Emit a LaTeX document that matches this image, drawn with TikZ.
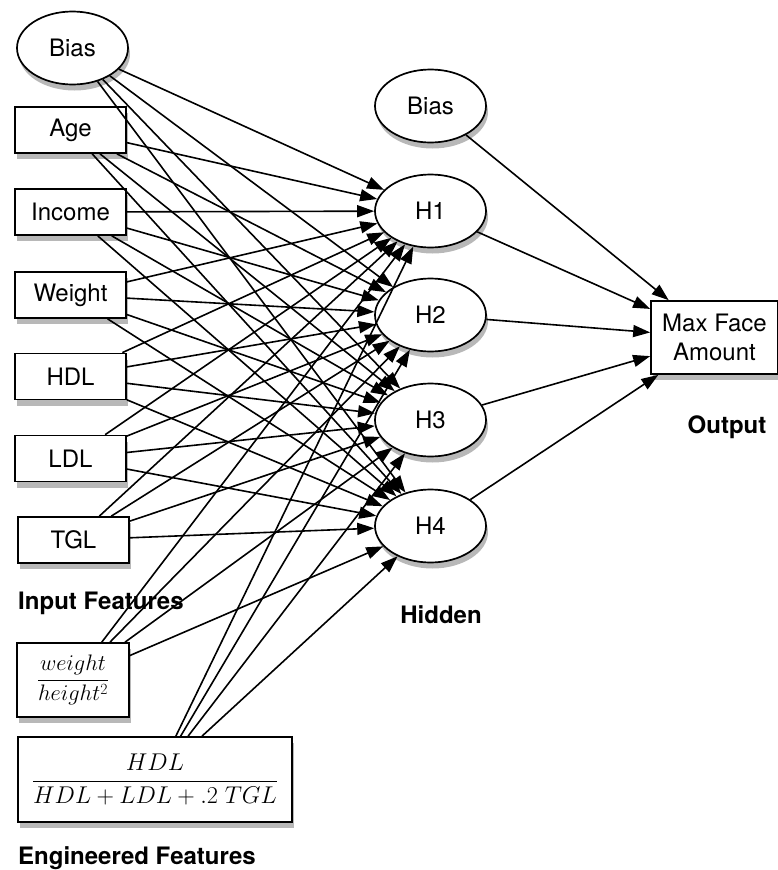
\documentclass[tikz,border=0pt]{standalone}
\usepackage{graphicx}
\usepackage[no-math]{fontspec}
\setmainfont{TeX Gyre Heros}
\usetikzlibrary{shapes.geometric,arrows.meta,shadows}
\tikzset{
  base/.style={draw=black, line width=1.7pt, fill=white,
    drop shadow={shadow xshift=2pt, shadow yshift=-6pt, opacity=0.28, fill=black}},
  ell/.style={base, ellipse, minimum width=111pt, minimum height=73pt, inner sep=0pt},
  inbox/.style={base, rectangle, minimum width=111pt, minimum height=46pt, inner sep=0pt},
  conn/.style={line width=1.6pt, -{Triangle[length=17pt,width=12pt]}},
  lab/.style={font=\fontsize{24}{28}\bfseries\selectfont, inner sep=0pt}
}
\begin{document}
\begin{tikzpicture}[x=1pt,y=-1pt,font=\fontsize{24}{28}\selectfont]
\useasboundingbox (0,0) rectangle (778,870);
% input layer
\node[ell]   (inB) at (72.5,48)  {Bias};
\node[inbox] (age) at (70.5,130) {Age};
\node[inbox] (inc) at (70.5,212) {Income};
\node[inbox] (wgt) at (70.5,295) {Weight};
\node[inbox] (hdl) at (70.5,376.5) {HDL};
\node[inbox] (ldl) at (70.5,458.5) {LDL};
\node[inbox] (tgl) at (73.5,540) {TGL};
\node[base, rectangle, minimum width=112pt, minimum height=74pt, inner sep=0pt]
  (bmi) at (73,680) {\resizebox{72pt}{!}{$\displaystyle\frac{weight}{height^2}$}};
\node[base, rectangle, minimum width=274pt, minimum height=85pt, inner sep=0pt]
  (rat) at (155,779.5) {\resizebox{246pt}{!}{$\displaystyle\frac{HDL}{HDL+LDL+.2\;TGL}$}};
% hidden layer
\node[ell] (hB) at (430.5,106) {Bias};
\node[ell] (h1) at (430.5,211) {H1};
\node[ell] (h2) at (430.5,315) {H2};
\node[ell] (h3) at (430.5,420) {H3};
\node[ell] (h4) at (430.5,526) {H4};
% output
\node[base, rectangle, minimum width=127pt, minimum height=73pt, inner sep=0pt, align=center]
  (out) at (714.5,337.5) {Max Face\\[1pt]Amount};
% labels
\node[lab, anchor=west] (lin) at (18,603) {Input Features};
\node[lab] (lhid) at (441,615) {Hidden};
\node[lab] (lout) at (727,427) {Output};
\node[lab, anchor=west] (leng) at (18,858) {Engineered Features};
% connectors
\foreach \s in {inB,age,inc,wgt,hdl,ldl,tgl,bmi,rat}
  \foreach \t in {h1,h2,h3,h4}
    \draw[conn] (\s) -- (\t);
\foreach \s in {hB,h1,h2,h3,h4}
  \draw[conn] (\s) -- (out);
\end{tikzpicture}
\end{document}
